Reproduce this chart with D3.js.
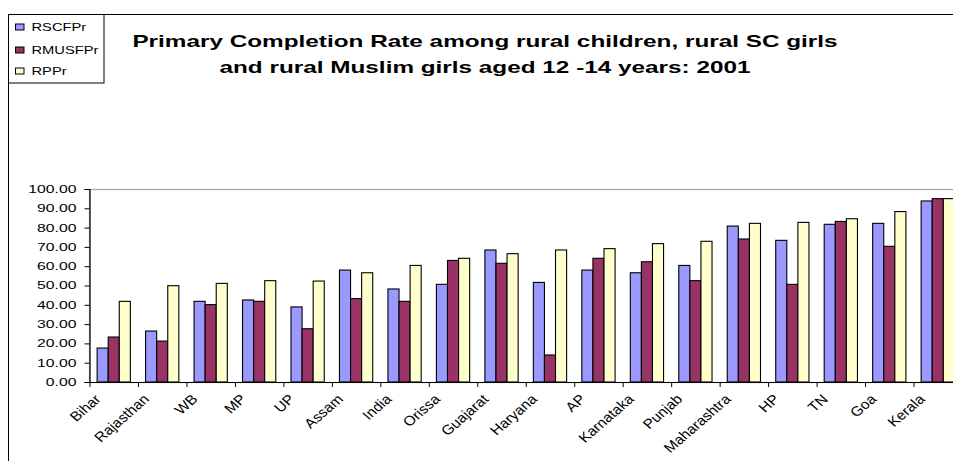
<!DOCTYPE html>
<html>
<head>
<meta charset="utf-8">
<script src="https://cdn.jsdelivr.net/npm/d3@7"></script>
<style>
  html, body { margin: 0; padding: 0; background: #fff; }
  svg { display: block; font-family: "Liberation Sans", Arial, sans-serif; }
</style>
</head>
<body>
<svg id="chart" width="953" height="461"></svg>
<script>
// Primary completion rates (%) by state, 2001
const categories = ["Bihar", "Rajasthan", "WB", "MP", "UP", "Assam", "India", "Orissa", "Guajarat",
  "Haryana", "AP", "Karnataka", "Punjab", "Maharashtra", "HP", "TN", "Goa", "Kerala"];
const RSCFPr  = [17.6, 26.4, 41.8, 42.5, 38.9, 58.0, 48.2, 50.6, 68.4, 51.6, 58.0, 56.6, 60.4, 80.8, 73.4, 81.7, 82.2, 93.8];
const RMUSFPr = [23.3, 21.2, 40.1, 41.8, 27.6, 43.2, 41.8, 63.0, 61.5, 14.0, 64.1, 62.3, 52.5, 74.1, 50.6, 83.2, 70.3, 95.0];
const RPPr    = [41.8, 49.9, 51.1, 52.5, 52.3, 56.6, 60.4, 64.1, 66.5, 68.4, 69.1, 71.7, 72.9, 82.2, 82.7, 84.6, 88.3, 95.0];
const seriesNames = ["RSCFPr", "RMUSFPr", "RPPr"];
const seriesColors = ["#9999FF", "#993366", "#FFFFCC"];
const yTicks = [0, 10, 20, 30, 40, 50, 60, 70, 80, 90, 100];
const titleLines = ["Primary Completion Rate among rural children, rural SC girls",
  "and rural Muslim girls aged 12 -14 years: 2001"];

const seriesValues = [RSCFPr, RMUSFPr, RPPr];
const rows = categories.map((c, i) => ({ cat: c, vals: seriesValues.map(s => s[i]) }));

const svg = d3.select("#chart");

// chart frame (left and top edges visible)
svg.append("path")
  .attr("d", "M8.5,461 V14.5 H953")
  .attr("fill", "none").attr("stroke", "#000").attr("stroke-width", 1);

// plot area
const plot = { left: 89.5, right: 962, top: 189, bottom: 382 };
const x = d3.scaleBand().domain(categories).range([plot.left, plot.right]).paddingInner(0).paddingOuter(0);
const bw = x.bandwidth();
const x1 = d3.scaleBand().domain(seriesNames).range([bw * 0.157, bw * 0.843]).padding(0);
const y = d3.scaleLinear().domain([0, 100]).range([plot.bottom, plot.top]);

// plot area border (grey)
svg.append("rect")
  .attr("x", plot.left).attr("y", y(100) + 0.5)
  .attr("width", plot.right - plot.left).attr("height", y(0) - y(100))
  .attr("fill", "none").attr("stroke", "#a6a6a6").attr("stroke-width", 1.2);

// bars
const groups = svg.append("g").selectAll("g").data(rows).join("g")
  .attr("transform", d => `translate(${x(d.cat)},0)`);
groups.selectAll("rect")
  .data(d => d.vals.map((v, i) => ({ name: seriesNames[i], v, i })))
  .join("rect")
  .attr("x", d => x1(d.name))
  .attr("y", d => y(d.v))
  .attr("width", x1.bandwidth())
  .attr("height", d => y(0) - y(d.v))
  .attr("fill", d => seriesColors[d.i])
  .attr("stroke", "#000").attr("stroke-width", 1.1);

// y axis, labels widened horizontally
const yAxis = svg.append("g")
  .attr("transform", `translate(${plot.left},0)`)
  .call(d3.axisLeft(y).tickValues(yTicks).tickFormat(d3.format(".2f")).tickSize(5).tickPadding(8));
yAxis.select(".domain").attr("stroke", "#000").attr("stroke-width", 1.2);
yAxis.selectAll(".tick line").attr("stroke", "#000");
yAxis.selectAll("text")
  .attr("x", 0)
  .attr("transform", "translate(-13,0) scale(1.5,1)")
  .attr("font-size", 10.5).attr("fill", "#000").attr("dy", "0.33em")
  .attr("font-family", "'Liberation Sans', Arial, sans-serif");

// x axis: line, ticks on category boundaries, slanted labels
const xAxis = svg.append("g");
xAxis.append("line")
  .attr("x1", plot.left).attr("x2", plot.right)
  .attr("y1", y(0) + 0.5).attr("y2", y(0) + 0.5)
  .attr("stroke", "#000").attr("stroke-width", 1.2);
xAxis.selectAll("line.tk").data(categories).join("line").attr("class", "tk")
  .attr("x1", d => x(d) + 0.5).attr("x2", d => x(d) + 0.5)
  .attr("y1", y(0)).attr("y2", y(0) + 5)
  .attr("stroke", "#000");
xAxis.selectAll("text").data(categories).join("text")
  .attr("transform", d => `translate(${x(d) + bw / 2 - 12},${y(0) + 18}) scale(1.15,1) rotate(-45)`)
  .attr("text-anchor", "end")
  .attr("font-size", 13.5)
  .attr("fill", "#000")
  .text(d => d);

// title
svg.append("g").selectAll("text").data(titleLines).join("text")
  .attr("transform", (d, i) => `translate(485,${47 + i * 26}) scale(1.52,1)`)
  .attr("text-anchor", "middle")
  .attr("font-size", 16).attr("font-weight", "bold").attr("fill", "#000")
  .text(d => d);

// legend
const legend = svg.append("g");
legend.append("rect")
  .attr("x", 8.5).attr("y", 14.5).attr("width", 95.5).attr("height", 68.5)
  .attr("fill", "#fff").attr("stroke", "#000");
const li = legend.selectAll("g").data(seriesNames).join("g")
  .attr("transform", (d, i) => `translate(0,${[27, 50, 71][i]})`);
li.append("rect")
  .attr("x", 15.5).attr("y", -3).attr("width", 8.5).attr("height", 6)
  .attr("fill", (d, i) => seriesColors[i]).attr("stroke", "#000");
li.append("text")
  .attr("transform", "translate(31.5,4) scale(1.4,1)")
  .attr("font-size", 10.5).attr("fill", "#000")
  .text(d => d);
</script>
</body>
</html>
